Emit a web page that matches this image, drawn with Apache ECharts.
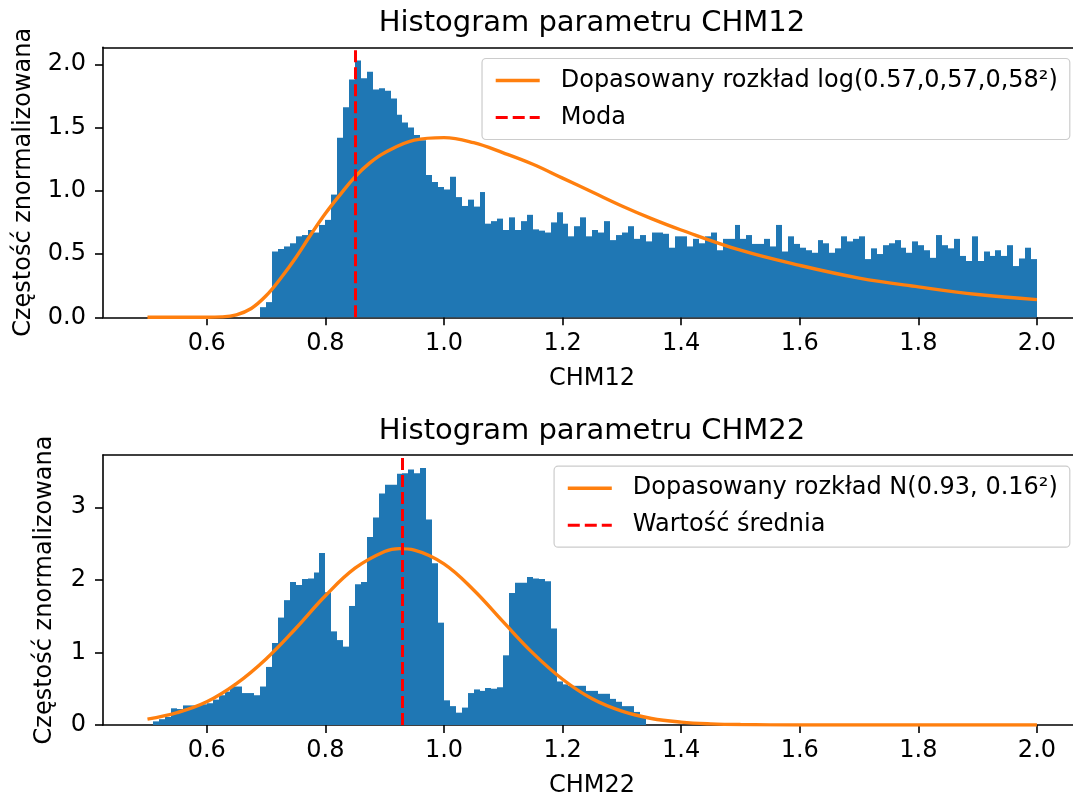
<!DOCTYPE html>
<html>
<head>
<meta charset="utf-8">
<script src="https://cdn.jsdelivr.net/npm/echarts@6/dist/echarts.min.js"></script>
<style>html,body{margin:0;padding:0;background:#fff;}#c{width:1073px;height:799px;}</style>
</head>
<body>
<div id="c"></div>
<script>
// ---------- DATA ----------
const binStart = 0.5;
const binWidth = 0.01;
const binCount = 150;

// CHM12 normalized histogram (150 bins, 0.5 .. 2.0)
const chm12Density = [
  0,0,0,0,0,0,0,0,0,0, 0,0,0,0,0,0,0,0,0,0.08,
  0.12,0.52,0.54,0.56,0.585,0.64,0.65,0.69,0.67,0.73,
  0.77,0.97,1.42,1.66,1.88,2.03,1.89,1.94,1.80,1.81,
  1.79,1.73,1.60,1.54,1.50,1.44,1.40,1.125,1.07,1.03,
  1.01,1.11,0.95,0.88,0.93,0.875,0.99,0.74,0.76,0.78,
  0.69,0.79,0.69,0.76,0.81,0.695,0.685,0.67,0.75,0.83,
  0.74,0.64,0.72,0.79,0.64,0.69,0.67,0.76,0.61,0.65,
  0.67,0.72,0.62,0.65,0.60,0.67,0.67,0.66,0.55,0.64,
  0.64,0.56,0.62,0.585,0.64,0.67,0.53,0.62,0.62,0.73,
  0.62,0.65,0.58,0.58,0.62,0.56,0.73,0.52,0.64,0.58,
  0.55,0.53,0.51,0.61,0.585,0.51,0.545,0.64,0.60,0.62,
  0.64,0.46,0.545,0.50,0.57,0.585,0.61,0.55,0.51,0.60,
  0.57,0.53,0.47,0.65,0.57,0.545,0.62,0.485,0.445,0.64,
  0.445,0.52,0.485,0.53,0.485,0.57,0.405,0.465,0.55,0.46
];

// CHM22 normalized histogram (150 bins, 0.5 .. 2.0)
const chm22Density = [
  0,0.05,0.08,0.11,0.23,0.22,0.27,0.27,0.27,0.285,
  0.30,0.35,0.41,0.46,0.53,0.53,0.44,0.44,0.41,0.53,
  0.80,1.13,1.48,1.72,1.97,1.93,2.01,2.02,2.10,2.37,
  1.83,1.29,1.17,1.08,1.64,1.94,1.97,2.59,2.86,3.19,
  3.31,3.31,3.46,3.47,3.52,3.47,3.54,2.83,2.23,1.41,
  0.34,0.26,0.17,0.24,0.44,0.49,0.47,0.51,0.50,0.52,
  0.96,1.82,1.96,1.96,2.04,2.02,2.01,1.98,1.33,0.60,
  0.56,0.54,0.54,0.54,0.47,0.47,0.43,0.43,0.36,0.32,
  0.26,0.26,0.18,0.12,0,0,0,0,0,0,
  0,0,0,0,0,0,0,0,0,0, 0,0,0,0,0,0,0,0,0,0,
  0,0,0,0,0,0,0,0,0,0, 0,0,0,0,0,0,0,0,0,0,
  0,0,0,0,0,0,0,0,0,0, 0,0,0,0,0,0,0,0,0,0
];

// fitted curves
const fit12X = [0.5,0.55,0.58,0.6,0.625,0.65,0.675,0.7,0.725,0.75,0.775,0.8,0.825,0.85,0.875,0.9,0.95,1.0,1.05,1.1,1.15,1.2,1.25,1.3,1.35,1.4,1.5,1.6,1.7,1.8,1.9,2.0];
const fit12Y = [0,0,0,0,0.003,0.02,0.07,0.17,0.31,0.47,0.65,0.82,0.97,1.11,1.22,1.30,1.40,1.42,1.38,1.30,1.21,1.10,0.99,0.88,0.78,0.69,0.53,0.41,0.31,0.24,0.18,0.14];

const fit22X = [0.5,0.55,0.6,0.65,0.7,0.75,0.8,0.85,0.9,0.925,0.95,1.0,1.05,1.1,1.15,1.2,1.25,1.3,1.35,1.4,1.45,1.5,1.6,1.7,1.8,1.9,2.0];
const fit22Y = [0.08,0.17,0.32,0.57,0.91,1.33,1.78,2.16,2.39,2.43,2.41,2.22,1.86,1.42,0.99,0.63,0.36,0.19,0.09,0.04,0.016,0.006,0,0,0,0,0];

const modeValue12 = 0.85;
const meanValue22 = 0.93;

const xTicks = [0.6,0.8,1.0,1.2,1.4,1.6,1.8,2.0];
const yTicks12 = [0,0.5,1.0,1.5,2.0];
const yTicks22 = [0,1,2,3];

const titles = ['Histogram parametru CHM12','Histogram parametru CHM22'];
const xNames = ['CHM12','CHM22'];
const yName = 'Częstość znormalizowana';
const fitNames = ['Dopasowany rozkład log(0.57,0,57,0,58²)','Dopasowany rozkład N(0.93, 0.16²)'];
const lineNames = ['Moda','Wartość średnia'];

// ---------- BUILD ----------
const FONT = 'DejaVu Sans';
const BLUE = '#1f77b4', ORANGE = '#ff7f0e', RED = '#ff0000';
const FS = 24;

function histData(vals){
  const out = [];
  for (let i = 0; i < binCount; i++) {
    const a = binStart + binWidth * i;
    out.push([a, a + binWidth, vals[i]]);
  }
  return out;
}
function zip(xs, ys){ return xs.map((x,i)=>[x, ys[i]]); }

function renderBar(params, api){
  const h = api.value(2);
  if (!h) return null;
  const p0 = api.coord([api.value(0), h]);
  const p1 = api.coord([api.value(1), 0]);
  const xa = Math.round(p0[0]), xb = Math.round(p1[0]);
  return {type:'rect', shape:{x:xa, y:p0[1], width:xb-xa, height:p1[1]-p0[1]},
          style:{fill:BLUE}};
}

const grids = [
  {left:103, top:47.3, right:0, height:270},
  {left:103, top:455, right:0, height:270}
];

const X_MIN = 0.425, X_MAX = 2.0608;

function xAxis(idx){
  return {
    type:'value', gridIndex:idx, min:X_MIN, max:X_MAX,
    splitLine:{show:false},
    axisLine:{show:true, onZero:false, lineStyle:{color:'#000', width:1.6}},
    axisTick:{show:true, length:8, lineStyle:{color:'#000', width:1.6}, customValues:xTicks},
    axisLabel:{show:true, margin:14, fontFamily:FONT, fontSize:FS, color:'#000',
      customValues:xTicks, formatter:v=>v.toFixed(1)}
  };
}
function xAxisTop(idx){
  return {
    type:'value', gridIndex:idx, min:X_MIN, max:X_MAX, position:'top',
    splitLine:{show:false},
    axisLine:{show:true, onZero:false, lineStyle:{color:'#000', width:1.6}},
    axisTick:{show:false}, axisLabel:{show:false}
  };
}
function yAxis(idx, max, ticks, dec){
  return {
    type:'value', gridIndex:idx, min:0, max:max,
    splitLine:{show:false},
    axisLine:{show:true, onZero:false, lineStyle:{color:'#000', width:1.6}},
    axisTick:{show:true, length:8, lineStyle:{color:'#000', width:1.6}, customValues:ticks},
    axisLabel:{show:true, margin:17, fontFamily:FONT, fontSize:FS, color:'#000',
      customValues:ticks, formatter:v=>v.toFixed(dec)}
  };
}

const dashed = {color:RED, width:3, type:[12,5]};
const solid = {color:ORANGE, width:3.4};

function legend(names, top){
  return {
    show:true, orient:'vertical', right:3.2, top:top,
    data:[{name:names[0], lineStyle:solid}, {name:names[1], lineStyle:dashed}],
    selectedMode:false,
    itemWidth:44, itemHeight:26, itemGap:11,
    padding:[9,12,9,12],
    backgroundColor:'rgba(255,255,255,0.8)',
    borderColor:'#cccccc', borderWidth:1.2, borderRadius:4,
    itemStyle:{color:'transparent', borderWidth:0, opacity:0},
    textStyle:{fontFamily:FONT, fontSize:FS, color:'#000', padding:[0,0,0,16], lineHeight:26}
  };
}

function textEl(x, y, txt, size, rot){
  return {type:'text', x:x, y:y, rotation:rot||0, z:100,
    style:{text:txt, fontFamily:FONT, fontSize:size, fill:'#000', align:'center', verticalAlign:'middle'}};
}

const option = {
  animation:false,
  backgroundColor:'#fff',
  grid:grids,
  xAxis:[xAxis(0), xAxis(1), xAxisTop(0), xAxisTop(1)],
  yAxis:[yAxis(0, 2.134, yTicks12, 1), yAxis(1, 3.72, yTicks22, 0)],
  legend:[legend([fitNames[0], lineNames[0]], 58.5), legend([fitNames[1], lineNames[1]], 466.2)],
  graphic:[
    textEl(592, 23, titles[0], 29),
    textEl(592, 431, titles[1], 29),
    textEl(592, 379, xNames[0], FS),
    textEl(592, 786, xNames[1], FS),
    textEl(24, 182.3, yName, FS, Math.PI/2),
    textEl(45, 590, yName, FS, Math.PI/2)
  ],
  series:[
    {type:'custom', name:'CHM12', xAxisIndex:0, yAxisIndex:0, renderItem:renderBar,
     encode:{x:[0,1], y:2}, data:histData(chm12Density), z:1, silent:true},
    {type:'line', name:fitNames[0], xAxisIndex:0, yAxisIndex:0, data:zip(fit12X, fit12Y),
     smooth:0.4, symbol:'none', lineStyle:solid, itemStyle:{color:ORANGE}, z:3},
    {type:'line', name:lineNames[0], xAxisIndex:0, yAxisIndex:0, data:[[modeValue12, 0]],
     symbol:'none', lineStyle:dashed, itemStyle:{color:RED}, z:4,
     markLine:{silent:true, symbol:['none','none'], label:{show:false},
       lineStyle:dashed, data:[{xAxis:modeValue12}]}},
    {type:'custom', name:'CHM22', xAxisIndex:1, yAxisIndex:1, renderItem:renderBar,
     encode:{x:[0,1], y:2}, data:histData(chm22Density), z:1, silent:true},
    {type:'line', name:fitNames[1], xAxisIndex:1, yAxisIndex:1, data:zip(fit22X, fit22Y),
     smooth:0.4, symbol:'none', lineStyle:solid, itemStyle:{color:ORANGE}, z:3},
    {type:'line', name:lineNames[1], xAxisIndex:1, yAxisIndex:1, data:[[meanValue22, 0]],
     symbol:'none', lineStyle:dashed, itemStyle:{color:RED}, z:4,
     markLine:{silent:true, symbol:['none','none'], label:{show:false},
       lineStyle:dashed, data:[{xAxis:meanValue22}]}}
  ]
};

const chart = echarts.init(document.getElementById('c'), null, {renderer:'canvas'});
chart.setOption(option);
</script>
</body>
</html>
